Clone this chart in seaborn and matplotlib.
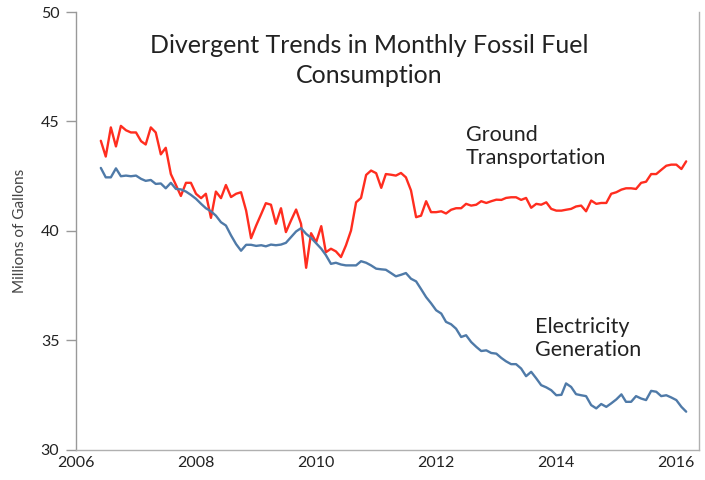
import pandas as pd
import matplotlib
matplotlib.use("Agg")
import matplotlib.pyplot as plt
import matplotlib.dates as mdates
import seaborn as sns

# monthly values, Jun 2006 - Mar 2016 (millions of gallons)
ground = [
    44.12, 43.40, 44.73, 43.86, 44.80, 44.60, 44.50, 44.50, 44.10, 43.95,
    44.73, 44.50, 43.50, 43.80, 42.60, 42.10, 41.60, 42.20, 42.20, 41.70,
    41.50, 41.70, 40.60, 41.80, 41.50, 42.10, 41.55, 41.70, 41.77, 40.93,
    39.67, 40.25, 40.78, 41.27, 41.20, 40.33, 41.04, 39.95, 40.48, 40.98,
    40.33, 38.32, 39.90, 39.49, 40.22, 39.03, 39.19, 39.07, 38.81, 39.34,
    40.02, 41.31, 41.51, 42.56, 42.76, 42.64, 41.97, 42.60, 42.57, 42.53,
    42.65, 42.45, 41.85, 40.63, 40.70, 41.36, 40.86, 40.86, 40.90, 40.80,
    40.97, 41.04, 41.04, 41.24, 41.16, 41.20, 41.36, 41.28, 41.36, 41.43,
    41.42, 41.51, 41.54, 41.54, 41.42, 41.51, 41.06, 41.24, 41.20, 41.31,
    41.01, 40.93, 40.93, 40.97, 41.01, 41.12, 41.16, 40.90, 41.39, 41.24,
    41.28, 41.28, 41.70, 41.77, 41.89, 41.95, 41.95, 41.92, 42.20, 42.25,
    42.60, 42.60, 42.79, 42.98, 43.03, 43.03, 42.83, 43.18,
]

electric = [
    42.88, 42.45, 42.45, 42.86, 42.50, 42.53, 42.50, 42.53, 42.38, 42.29,
    42.33, 42.15, 42.17, 41.95, 42.20, 41.92, 41.90, 41.80, 41.65, 41.47,
    41.24, 41.04, 40.90, 40.70, 40.40, 40.25, 39.80, 39.40, 39.10, 39.37,
    39.37, 39.32, 39.35, 39.30, 39.38, 39.35, 39.38, 39.46, 39.72, 39.98,
    40.13, 39.87, 39.69, 39.44, 39.19, 38.90, 38.50, 38.55, 38.47, 38.43,
    38.43, 38.43, 38.62, 38.55, 38.43, 38.28, 38.25, 38.23, 38.08, 37.93,
    38.00, 38.08, 37.82, 37.70, 37.35, 36.98, 36.70, 36.38, 36.23, 35.85,
    35.74, 35.54, 35.16, 35.24, 34.93, 34.71, 34.52, 34.55, 34.43, 34.40,
    34.20, 34.05, 33.92, 33.92, 33.72, 33.37, 33.57, 33.27, 32.96, 32.86,
    32.73, 32.50, 32.52, 33.04, 32.88, 32.55, 32.50, 32.46, 32.05, 31.90,
    32.10, 31.97, 32.13, 32.31, 32.54, 32.20, 32.20, 32.46, 32.35, 32.28,
    32.70, 32.66, 32.46, 32.50, 32.40, 32.28, 31.97, 31.75,
]

dates = pd.date_range("2006-06-01", periods=len(ground), freq="MS")
year_ticks = [2006, 2008, 2010, 2012, 2014, 2016]
y_ticks = [30, 35, 40, 45, 50]

df = pd.DataFrame({
    "Date": list(dates) * 2,
    "Gallons": ground + electric,
    "Series": ["Ground Transportation"] * len(ground) + ["Electricity Generation"] * len(electric),
})

sns.set_style("white")
plt.rcParams["font.family"] = ["Lato", "DejaVu Sans"]

fig = plt.figure(figsize=(7.05, 4.80), dpi=100)
ax = fig.add_axes([76 / 705, 30 / 480, 623 / 705, 438 / 480])

sns.lineplot(
    data=df, x="Date", y="Gallons", hue="Series",
    palette={"Ground Transportation": "#ff2d1f", "Electricity Generation": "#4f7aa8"},
    linewidth=1.7, legend=False, ax=ax,
)

ax.set_xlim(pd.Timestamp("2006-01-01"), pd.Timestamp("2016-05-18"))
ax.set_ylim(30, 50)
ax.set_xticks([pd.Timestamp(f"{y}-01-01") for y in year_ticks])
ax.xaxis.set_major_formatter(mdates.DateFormatter("%Y"))
ax.set_yticks(y_ticks)

for lab in ax.get_xticklabels() + ax.get_yticklabels():
    lab.set_fontsize(11.5)
    lab.set_color("#222222")

ax.tick_params(axis="y", length=7, width=1, color="#999999", left=True, pad=5)
ax.tick_params(axis="x", length=0, pad=4)

for side in ["left", "bottom", "right"]:
    ax.spines[side].set_color("#b0b0b0")
    ax.spines[side].set_linewidth(1)
ax.spines["left"].set_color("#999999")
ax.spines["top"].set_visible(False)

ax.set_xlabel("")
ax.set_ylabel("Millions of Gallons", fontsize=11, color="#444444", labelpad=10)

ax.text(0.47, 0.95, "Divergent Trends in Monthly Fossil Fuel\nConsumption",
        transform=ax.transAxes, ha="center", va="top", fontsize=18,
        color="#222222", linespacing=1.35)

ax.text(0.626, 0.742, "Ground\nTransportation", transform=ax.transAxes,
        ha="left", va="top", fontsize=15.5, color="#222222", linespacing=1.2)
ax.text(0.737, 0.303, "Electricity\nGeneration", transform=ax.transAxes,
        ha="left", va="top", fontsize=15.5, color="#222222", linespacing=1.2)

fig.savefig("out.png", dpi=100)
